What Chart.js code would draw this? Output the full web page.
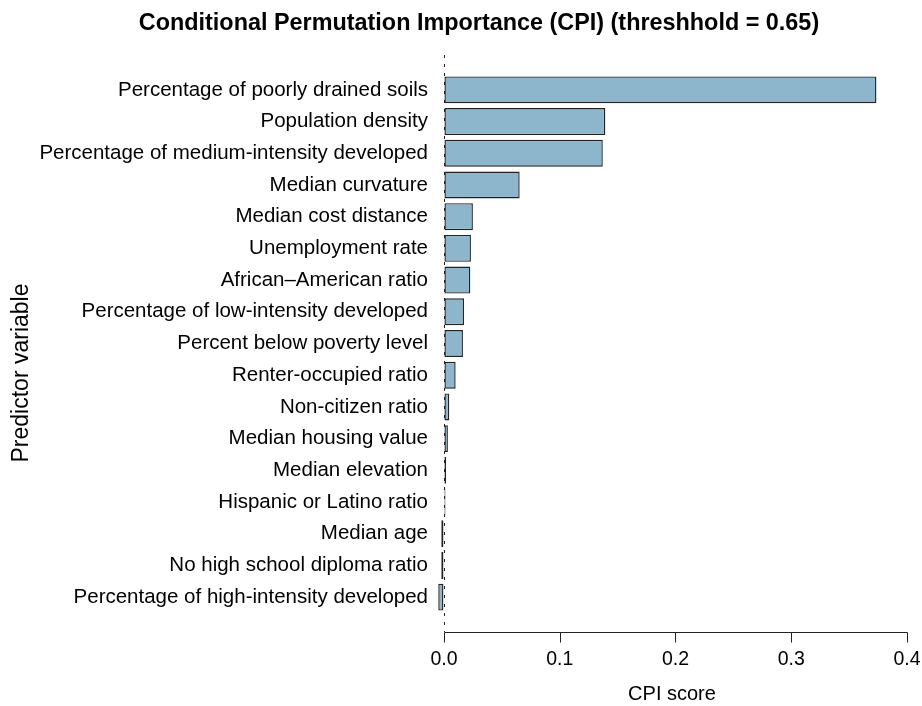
<!DOCTYPE html>
<html>
<head>
<meta charset="utf-8">
<script src="https://cdn.jsdelivr.net/npm/chart.js@4.4.1/dist/chart.umd.min.js"></script>
<style>
html,body{margin:0;padding:0;background:#fff;}
#wrap{width:922px;height:706px;position:relative;}
</style>
</head>
<body>
<div id="wrap"><canvas id="c" width="922" height="706"></canvas></div>
<script>
const chartTitle = "Conditional Permutation Importance (CPI) (threshhold = 0.65)";
const xTitle = "CPI score";
const yTitle = "Predictor variable";
const categories = [
  "Percentage of poorly drained soils",
  "Population density",
  "Percentage of medium-intensity developed",
  "Median curvature",
  "Median cost distance",
  "Unemployment rate",
  "African\u2013American ratio",
  "Percentage of low-intensity developed",
  "Percent below poverty level",
  "Renter-occupied ratio",
  "Non-citizen ratio",
  "Median housing value",
  "Median elevation",
  "Hispanic or Latino ratio",
  "Median age",
  "No high school diploma ratio",
  "Percentage of high-intensity developed"
];
const cpiScores = [
  0.3736, 0.1394, 0.1372, 0.0654, 0.0250, 0.0233, 0.0228, 0.0173, 0.0164,
  0.0101, 0.0046, 0.0034, 0.0019, 0.0013, -0.0023, -0.0023, -0.0049
];
const xTickValues = [0.0, 0.1, 0.2, 0.3, 0.4];

const FONT = "'Liberation Sans', Arial, Helvetica, sans-serif";
const AXIS_COLOR = '#222222';

const decor = {
  id: 'decor',
  beforeDatasetsDraw(chart) {
    const {ctx, chartArea, scales} = chart;
    const x0 = Math.round(scales.x.getPixelForValue(0)) + 0.5;
    ctx.save();
    ctx.strokeStyle = '#222';
    ctx.lineWidth = 1;
    ctx.setLineDash([3, 6]);
    ctx.beginPath();
    ctx.moveTo(x0, chartArea.top - 19);
    ctx.lineTo(x0, chartArea.bottom + 19);
    ctx.stroke();
    ctx.restore();
  },
  afterDraw(chart) {
    const {ctx, chartArea, scales} = chart;
    const xs = scales.x;
    const yAxis = Math.round(chartArea.bottom + 19) + 0.5;
    const a = Math.round(xs.getPixelForValue(xTickValues[0])) + 0.5;
    const b = Math.round(xs.getPixelForValue(xTickValues[xTickValues.length - 1])) + 0.5;
    ctx.save();
    ctx.strokeStyle = AXIS_COLOR;
    ctx.lineWidth = 1;
    ctx.setLineDash([]);
    ctx.beginPath();
    ctx.moveTo(a, yAxis);
    ctx.lineTo(b, yAxis);
    xTickValues.forEach(v => {
      const px = Math.round(xs.getPixelForValue(v)) + 0.5;
      ctx.moveTo(px, yAxis);
      ctx.lineTo(px, yAxis + 10);
    });
    ctx.stroke();
    // main title
    ctx.fillStyle = '#000';
    ctx.textAlign = 'center';
    ctx.textBaseline = 'middle';
    ctx.font = "bold 23.4px " + FONT;
    ctx.fillText(chartTitle, 479, 24);
    // y axis title
    ctx.font = "23px " + FONT;
    ctx.translate(22, 373);
    ctx.rotate(-Math.PI / 2);
    ctx.fillText(yTitle, 0, 0);
    ctx.restore();
  }
};

new Chart(document.getElementById('c'), {
  type: 'bar',
  data: {
    labels: categories,
    datasets: [{
      data: cpiScores,
      backgroundColor: '#8DB6CD',
      borderColor: '#222222',
      borderWidth: 1.4,
      borderSkipped: false,
      categoryPercentage: 1.0,
      barPercentage: 0.85
    }]
  },
  options: {
    indexAxis: 'y',
    responsive: false,
    animation: false,
    devicePixelRatio: 1,
    layout: { padding: { left: 0, right: 15, top: 74, bottom: 0 } },
    plugins: {
      legend: { display: false },
      tooltip: { enabled: false },
      title: { display: false }
    },
    scales: {
      x: {
        type: 'linear',
        min: -0.006,
        max: 0.4,
        grid: {
          display: true,
          drawOnChartArea: false,
          drawTicks: true,
          tickLength: 35,
          color: 'rgba(0,0,0,0)'
        },
        border: { display: false },
        afterBuildTicks(scale) { scale.ticks = xTickValues.map(v => ({ value: v })); },
        afterFit(scale) { scale.height = 93; },
        ticks: {
          padding: 0,
          color: '#000',
          font: { family: FONT, size: 19.5 },
          callback: v => Number(v).toFixed(1),
          maxRotation: 0
        },
        title: {
          display: true,
          text: xTitle,
          color: '#000',
          font: { family: FONT, size: 20 },
          padding: { top: 0, bottom: 0 }
        }
      },
      y: {
        type: 'category',
        offset: true,
        grid: { display: false, drawTicks: false },
        border: { display: false },
        afterFit(scale) { scale.width = 437; },
        ticks: {
          padding: 9,
          color: '#000',
          font: { family: FONT, size: 20.5 },
          autoSkip: false
        }
      }
    }
  },
  plugins: [decor]
});
</script>
</body>
</html>
